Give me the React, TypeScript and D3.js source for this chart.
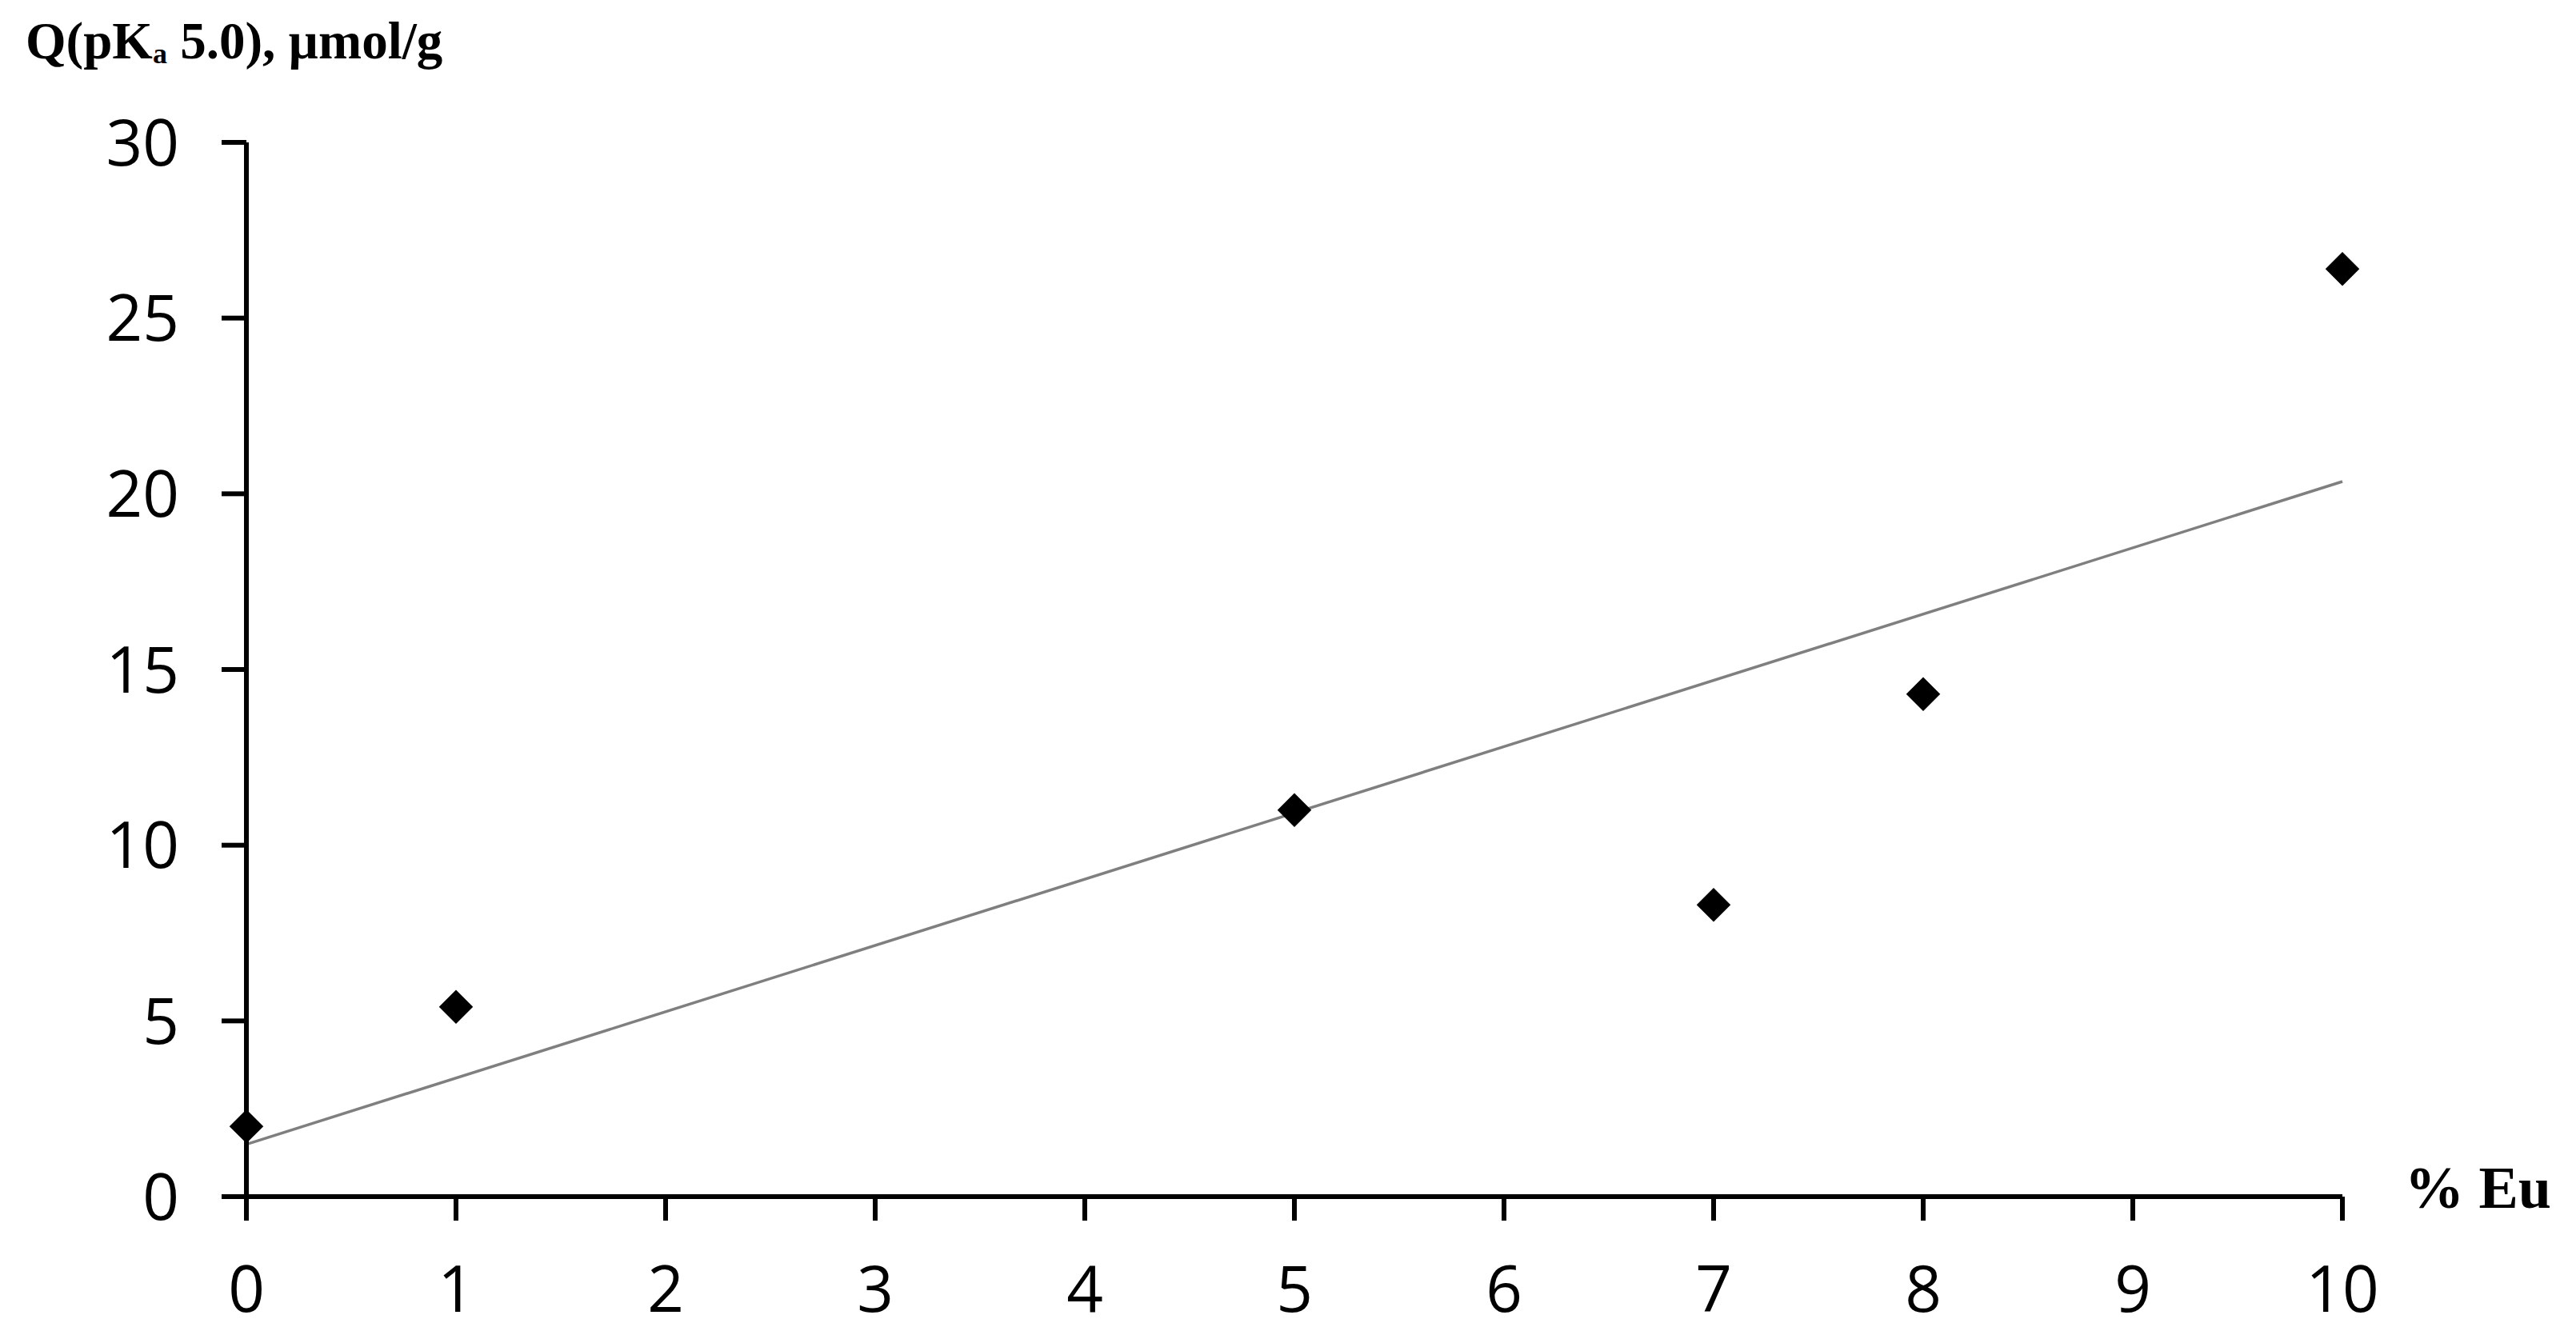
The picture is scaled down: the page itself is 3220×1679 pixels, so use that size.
import React from "react";
import * as d3 from "d3";

const xValues = [0, 1, 5, 7, 8, 10];
const yValues = [2.0, 5.4, 11.0, 8.3, 14.3, 26.4];
const xTicks = [0, 1, 2, 3, 4, 5, 6, 7, 8, 9, 10];
const yTicks = [0, 5, 10, 15, 20, 25, 30];

const W = 3220;
const H = 1679;

export default function App() {
  const x = d3.scaleLinear().domain([0, 10]).range([308, 2928]);
  const y = d3.scaleLinear().domain([0, 30]).range([1496, 178]);

  const n = xValues.length;
  const mx = d3.mean(xValues) as number;
  const my = d3.mean(yValues) as number;
  let sxy = 0, sxx = 0;
  for (let i = 0; i < n; i++) {
    sxy += (xValues[i] - mx) * (yValues[i] - my);
    sxx += (xValues[i] - mx) ** 2;
  }
  const slope = sxy / sxx;
  const intercept = my - slope * mx;
  const trend: [number, number][] = [0, 10].map((v) => [v, intercept + slope * v]);
  const line = d3.line<[number, number]>().x((d) => x(d[0])).y((d) => y(d[1]));
  const diamond = d3.symbol().type(d3.symbolDiamond2).size(1150)();

  const tickFont = "'Open Sans', 'Noto Sans', sans-serif";
  const serif = "'Liberation Serif', 'Times New Roman', serif";

  return (
    <svg width={W} height={H} style={{ position: "absolute", left: 0, top: 0, background: "#fff" }}>
      <rect x={0} y={0} width={W} height={H} fill="#fff" />
      {/* trend line */}
      <path d={line(trend) || ""} stroke="#7f7f7f" strokeWidth={3.5} fill="none" />
      {/* axes */}
      <line x1={x(0)} x2={x(0)} y1={y(30)} y2={y(0) + 30} stroke="#000" strokeWidth={6} />
      <line x1={x(0) - 31} x2={x(10)} y1={y(0)} y2={y(0)} stroke="#000" strokeWidth={6} />
      {yTicks.map((t) => (
        <g key={"y" + t}>
          <line x1={x(0) - 31} x2={x(0)} y1={y(t)} y2={y(t)} stroke="#000" strokeWidth={6} />
          <text x={x(0) - 84} y={y(t)} dy="0.36em" textAnchor="end" fontFamily={tickFont} fontSize={80} fill="#000">
            {t}
          </text>
        </g>
      ))}
      {xTicks.map((t) => (
        <g key={"x" + t}>
          <line x1={x(t)} x2={x(t)} y1={y(0)} y2={y(0) + 30} stroke="#000" strokeWidth={6} />
          <text x={x(t)} y={1640} textAnchor="middle" fontFamily={tickFont} fontSize={80} fill="#000">
            {t}
          </text>
        </g>
      ))}
      {/* points */}
      {xValues.map((v, i) => (
        <path key={"p" + i} d={diamond || ""} transform={`translate(${x(v)},${y(yValues[i])})`} fill="#000" />
      ))}
      {/* titles */}
      <text x={32} y={73} fontFamily={serif} fontWeight="bold" fontSize={65} fill="#000">
        Q(pK<tspan fontSize={36} dy={6}>a</tspan>
        <tspan dy={-6}> 5.0), µmol/g</tspan>
      </text>
      <text x={3006} y={1510} fontFamily={serif} fontWeight="bold" fontSize={74} fill="#000">
        % Eu
      </text>
    </svg>
  );
}
